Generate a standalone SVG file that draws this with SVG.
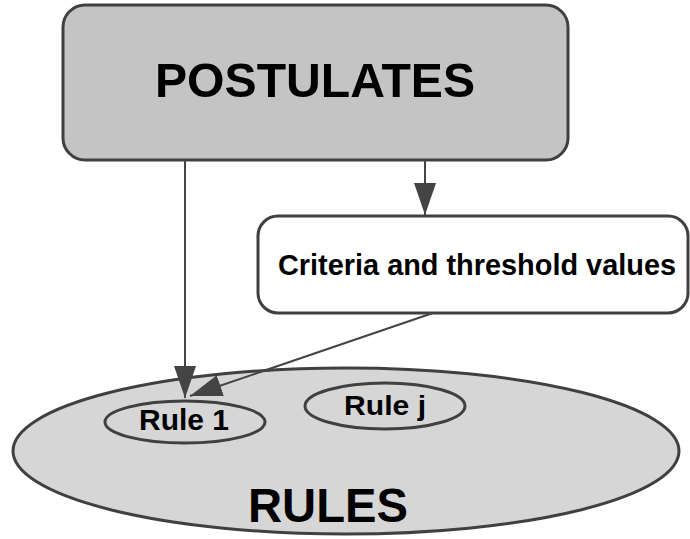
<svg xmlns="http://www.w3.org/2000/svg" width="690" height="539" viewBox="0 0 690 539">
<style>
.box{stroke:#404040;stroke-width:3}
.lbl{font-family:"Liberation Sans",Arial,sans-serif;font-weight:bold;fill:#000;text-anchor:middle}
.con{stroke:#444;stroke-width:2;fill:none}
</style>
<defs>
<marker id="ah" markerUnits="userSpaceOnUse" markerWidth="32" markerHeight="22" refX="32" refY="11" orient="auto">
<path d="M0,0 L32,11 L0,22 z" fill="#444"/>
</marker>
</defs>
<rect width="690" height="539" fill="#fff"/>
<g id="postulates">
<rect class="box" x="63" y="5" width="505" height="155" rx="22" fill="#c4c4c4"/>
<text class="lbl" x="315" y="97" font-size="49" textLength="320" lengthAdjust="spacingAndGlyphs">POSTULATES</text>
</g>
<g id="criteria">
<rect class="box" x="258" y="216" width="430" height="97" rx="20" fill="#fff"/>
<text class="lbl" x="477" y="275" font-size="29" textLength="398" lengthAdjust="spacingAndGlyphs">Criteria and threshold values</text>
</g>
<g id="rules">
<ellipse class="box" cx="346" cy="451" rx="333" ry="83" fill="#d6d6d6"/>
<text class="lbl" x="328" y="522" font-size="48" textLength="160" lengthAdjust="spacingAndGlyphs">RULES</text>
</g>
<g id="rule1">
<ellipse class="box" cx="185" cy="422" rx="80" ry="21" fill="#d6d6d6"/>
<text class="lbl" x="184" y="430" font-size="30" textLength="90" lengthAdjust="spacingAndGlyphs">Rule 1</text>
</g>
<g id="rulej">
<ellipse class="box" cx="385" cy="406" rx="80" ry="23" fill="#d6d6d6"/>
<text class="lbl" x="385" y="415" font-size="28" textLength="82" lengthAdjust="spacingAndGlyphs">Rule j</text>
</g>
<g id="connectors">
<line class="con" x1="425" y1="160" x2="425" y2="215" marker-end="url(#ah)"/>
<line class="con" x1="185" y1="160" x2="185" y2="398" marker-end="url(#ah)"/>
<line class="con" x1="433" y1="313" x2="190" y2="396" marker-end="url(#ah)"/>
</g>
</svg>
